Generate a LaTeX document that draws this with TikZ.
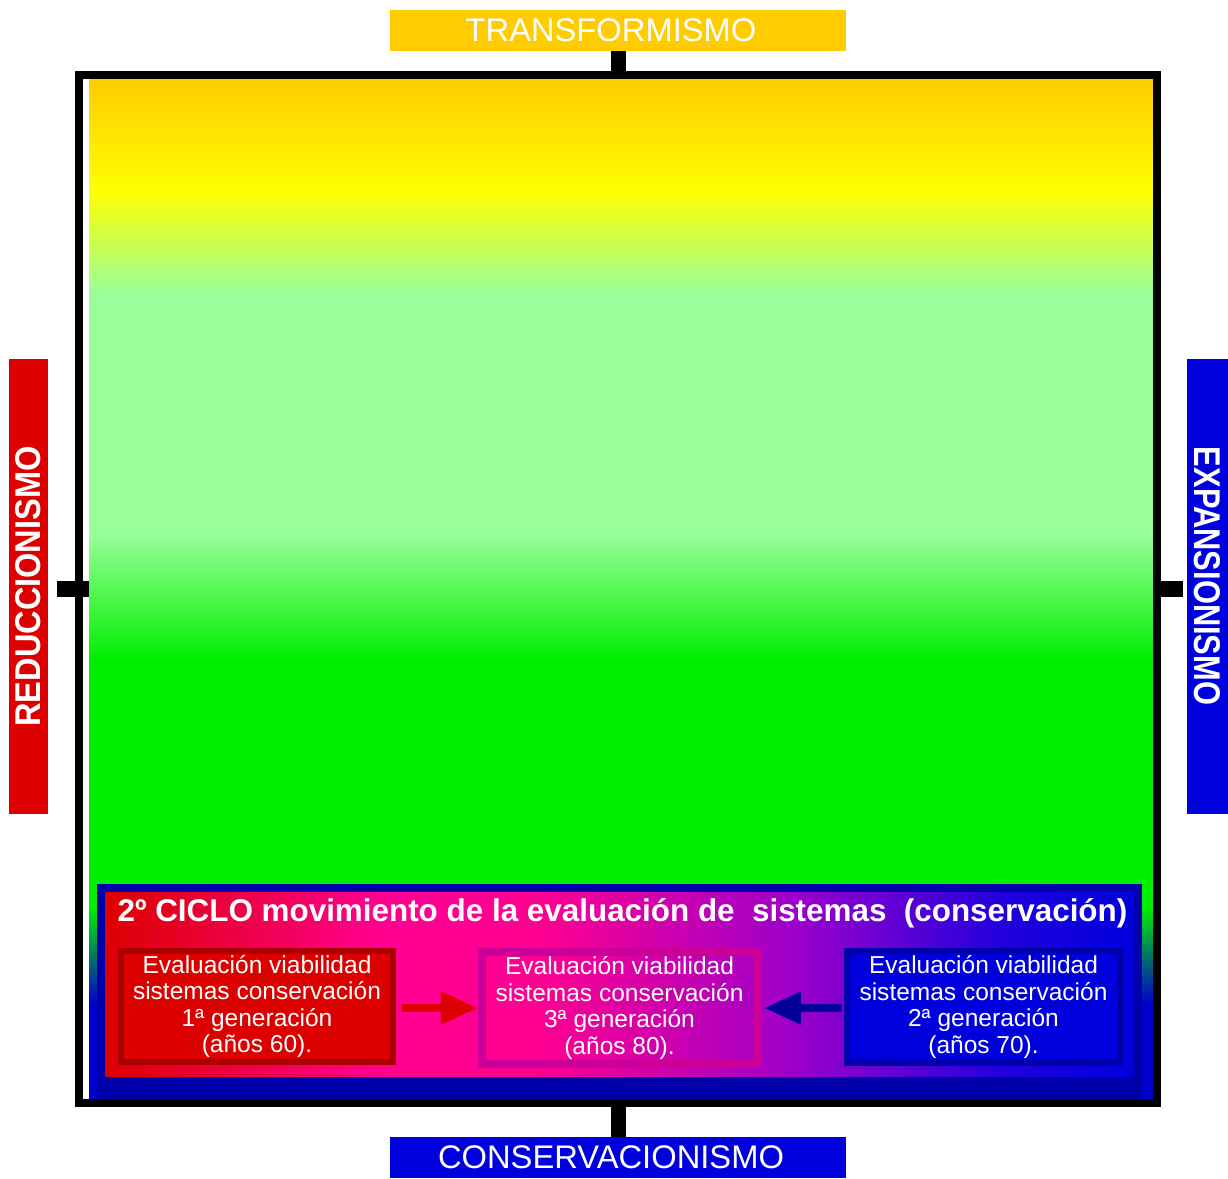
\documentclass[tikz,border=0pt]{standalone}
\usepackage{graphicx}
\usepackage{fontspec}
\setmainfont{Liberation Sans}
\usetikzlibrary{arrows.meta}

\definecolor{amarillo}{HTML}{FFCC00}
\definecolor{rojo}{HTML}{DD0000}
\definecolor{rojooscuro}{HTML}{AA0000}
\definecolor{azul}{HTML}{0000DD}
\definecolor{azulfondo}{HTML}{0000CC}
\definecolor{azuloscuro}{HTML}{0000AA}
\definecolor{flechaazul}{HTML}{000099}
\definecolor{verdeclaro}{HTML}{99FF99}
\definecolor{verde}{HTML}{00EE00}
\definecolor{rosa}{HTML}{FF0090}
\definecolor{violeta}{HTML}{9900CC}
\definecolor{azulvioleta}{HTML}{2200DD}
\definecolor{bordemedio}{HTML}{CC0099}

\begin{document}
\begin{tikzpicture}[x=0.01cm, y=-0.01cm,
    etiqueta/.style={fill=#1, text=white, inner sep=0pt, outer sep=0pt,
        minimum width=4.56cm, minimum height=0.41cm, font=\fontsize{9.3}{10}\selectfont},
    lateral/.style={fill=#1, text=white, inner sep=0pt, outer sep=0pt,
        minimum width=4.55cm, minimum height=0.40cm},
    caja/.style={draw=#1, text=white, inner sep=0pt, align=center,
        font=\fontsize{6.97}{7.54}\selectfont},
    marca/.style={line width=0.15cm},
    flecha/.style={draw=#1, line width=0.08cm, -{Triangle[length=0.37cm, width=0.31cm]}}]

    \fill[white] (0,0) rectangle (1228,1178);
    \useasboundingbox (0,0) rectangle (1228,1178);

    % fondo degradado
    \shade[top color=amarillo, bottom color=yellow] (89,79) rectangle (1153,191);
    \shade[top color=yellow, bottom color=verdeclaro] (89,190) rectangle (1153,294);
    \fill[verdeclaro] (89,293) rectangle (1153,534);
    \shade[top color=verdeclaro, bottom color=verde] (89,533) rectangle (1153,661);
    \fill[verde] (89,660) rectangle (1153,908);
    \shade[top color=verde, bottom color=azulfondo] (89,907) rectangle (1153,1004);
    \fill[azulfondo] (89,1003) rectangle (1153,1100);

    % recuadro del ciclo
    \fill[azuloscuro] (97,884) rectangle (1142,1100);
    \shade[left color=rojo, right color=rosa] (105,892) rectangle (381,1076);
    \shade[left color=rosa, right color=rosa] (380,892) rectangle (541,1076);
    \shade[left color=rosa, right color=violeta] (540,892) rectangle (801,1076);
    \shade[left color=violeta, right color=azulvioleta] (800,892) rectangle (1001,1076);
    \shade[left color=azulvioleta, right color=azul] (1000,892) rectangle (1134,1076);

    \node[anchor=base, text=white, inner sep=0pt, font=\bfseries\fontsize{8.93}{10}\selectfont]
        (titulo) at (622.5,921) {2º CICLO movimiento de la evaluación de~~sistemas~~(conservación)};

    \node[caja=rojooscuro, fill=rojo, line width=0.06cm, minimum width=2.72cm, minimum height=1.11cm]
        (gen1) at (257,1006.5) {Evaluación viabilidad\\sistemas conservación\\1ª generación\\(años 60).};
    \node[caja=bordemedio, line width=0.08cm, minimum width=2.75cm, minimum height=1.12cm]
        (gen3) at (619.5,1008) {Evaluación viabilidad\\sistemas conservación\\3ª generación\\(años 80).};
    \node[caja=azuloscuro, fill=azul, line width=0.06cm, minimum width=2.73cm, minimum height=1.12cm]
        (gen2) at (983.5,1007) {Evaluación viabilidad\\sistemas conservación\\2ª generación\\(años 70).};

    \draw[flecha=rojo, shorten <=0.06cm] (gen3.west -| gen1.east) -- (gen3.west);
    \draw[flecha=flechaazul, shorten <=0.02cm, shorten >=0.03cm] (gen3.east -| gen2.west) -- (gen3.east);

    % marco y ejes
    \node[draw, line width=0.08cm, inner sep=0pt, minimum width=10.78cm, minimum height=10.28cm]
        (marco) at (618,589) {};

    \node[etiqueta=amarillo] (sup) at (618,30.5) {TRANSFORMISMO\kern0.14cm};
    \node[etiqueta=azul] (inf) at (618,1157.5) {CONSERVACIONISMO\kern0.14cm};
    \node[lateral=rojo, rotate=90, minimum height=0.39cm] (izq) at (28.5,586.5)
        {\resizebox{2.8cm}{0.25cm}{\bfseries REDUCCIONISMO}};
    \node[lateral=azul, rotate=-90, minimum height=0.41cm] (der) at (1207.5,586.5)
        {\resizebox{2.58cm}{0.26cm}{\bfseries EXPANSIONISMO}\kern0.21cm};

    \draw[marca] (sup.south) -- (marco.north);
    \draw[marca] (marco.south) -- (inf.north);
    \draw[line width=0.16cm] ([xshift=-0.18cm]marco.west) -- ([xshift=0.14cm]marco.west);
    \draw[line width=0.16cm] (marco.east) -- ([xshift=0.22cm]marco.east);
\end{tikzpicture}
\end{document}
